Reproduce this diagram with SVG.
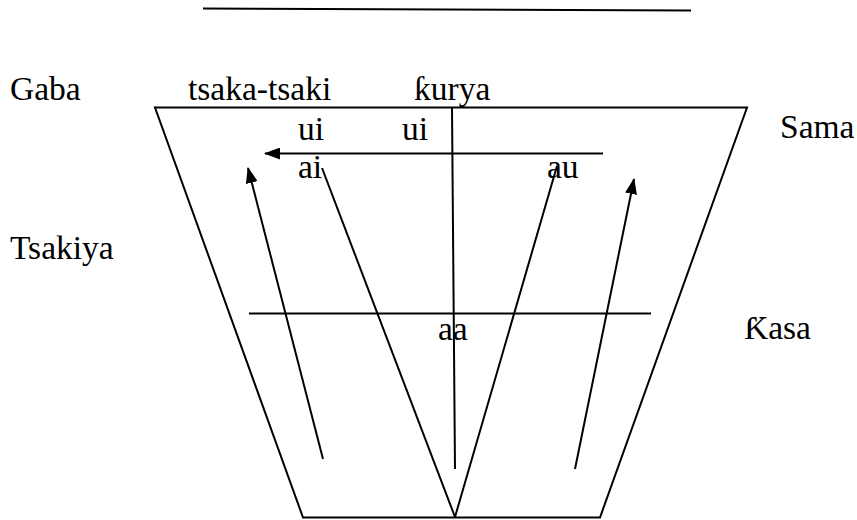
<svg xmlns="http://www.w3.org/2000/svg" width="857" height="520" viewBox="0 0 857 520">
<style>
.ln{stroke:#000;stroke-width:2;fill:none}
.t{font-family:'Liberation Serif','DejaVu Serif',serif;font-size:33.5px;fill:#000}
</style>
<defs>
<marker id="ah" markerUnits="userSpaceOnUse" markerWidth="16" markerHeight="12" refX="15" refY="6" orient="auto">
<path d="M0,0 L16,6 L0,12 z" fill="#000"/>
</marker>
</defs>
<rect width="857" height="520" fill="#fff"/>
<g id="shapes">
<line class="ln" x1="203" y1="8.5" x2="691" y2="10.5"/>
<polygon id="trapezoid" class="ln" points="155,107.5 747,107.5 600,517.5 303,517.5"/>
</g>
<g id="connectors">
<line class="ln" x1="452" y1="108" x2="455" y2="469"/>
<line class="ln" x1="603" y1="153.5" x2="265" y2="153.5" marker-end="url(#ah)"/>
<line class="ln" x1="322" y1="168" x2="455" y2="517"/>
<line class="ln" x1="557" y1="166" x2="455" y2="517"/>
<line class="ln" x1="249" y1="313.5" x2="651" y2="313.5"/>
<line class="ln" x1="323" y1="459" x2="248" y2="168" marker-end="url(#ah)"/>
<line class="ln" x1="575" y1="469" x2="634" y2="179" marker-end="url(#ah)"/>
</g>
<g id="labels">
<text class="t" x="10" y="100">Gaba</text>
<text class="t" x="188" y="100">tsaka-tsaki</text>
<text class="t" x="414" y="100">ƙurya</text>
<text class="t" x="780" y="138">Sama</text>
<text class="t" x="298" y="140">ui</text>
<text class="t" x="402" y="140">ui</text>
<text class="t" x="298" y="178">ai</text>
<text class="t" x="547" y="178">au</text>
<text class="t" x="10" y="259">Tsakiya</text>
<text class="t" x="438" y="340">aa</text>
<text class="t" x="744" y="339">Ƙasa</text>
</g>
</svg>
